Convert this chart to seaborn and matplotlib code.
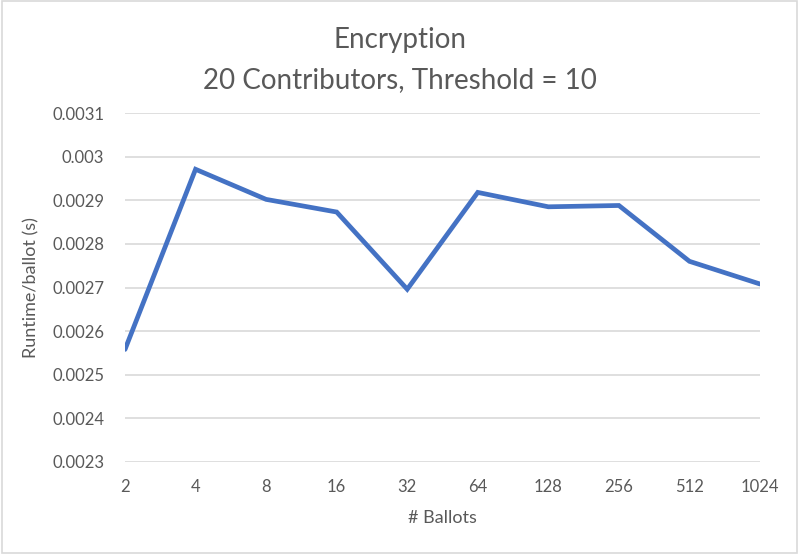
import matplotlib
matplotlib.use("Agg")
import matplotlib.pyplot as plt
import seaborn as sns
import pandas as pd
from matplotlib.patches import Rectangle

# data
ballots = ["2", "4", "8", "16", "32", "64", "128", "256", "512", "1024"]
runtime = [0.002558, 0.002971, 0.002902, 0.002873, 0.002696,
           0.002918, 0.002885, 0.002888, 0.002760, 0.002708]
y_ticks = [0.0023, 0.0024, 0.0025, 0.0026, 0.0027, 0.0028, 0.0029, 0.003, 0.0031]
y_labels = ["0.0023", "0.0024", "0.0025", "0.0026", "0.0027", "0.0028", "0.0029", "0.003", "0.0031"]

df = pd.DataFrame({"ballots": ballots, "runtime": runtime})

sns.set_style("white")
plt.rcParams["font.family"] = ["Lato", "DejaVu Sans"]

fig = plt.figure(figsize=(7.99, 5.54), dpi=100)
ax = fig.add_axes([125 / 799, 1 - 462 / 554, 635 / 799, 349 / 554])

sns.lineplot(data=df, x="ballots", y="runtime", sort=False, ax=ax,
             color="#4472C4", linewidth=3.4, solid_joinstyle="miter")

ax.set_xlim(0, len(ballots) - 1)
ax.set_ylim(0.0023, 0.0031)
ax.set_yticks(y_ticks)
ax.set_yticklabels(y_labels)
ax.grid(axis="y", color="#d9d9d9", linewidth=1.2)
ax.grid(axis="x", visible=False)
for s in ax.spines.values():
    s.set_visible(False)
ax.tick_params(axis="both", length=0, labelsize=12, colors="#595959")
ax.tick_params(axis="y", pad=15)
ax.tick_params(axis="x", pad=12)

ax.set_xlabel("# Ballots", fontsize=13, color="#595959", labelpad=11)
ax.set_ylabel("Runtime/ballot (s)", fontsize=13, color="#595959", labelpad=9)

fig.text(0.5, 1 - 40 / 554, "Encryption", ha="center", va="center",
         fontsize=20, color="#595959")
fig.text(0.5, 1 - 80 / 554, "20 Contributors, Threshold = 10", ha="center", va="center",
         fontsize=20, color="#595959")

fig.patches.append(Rectangle((0.002, 0.002), 0.996, 0.996, transform=fig.transFigure,
                             fill=False, edgecolor="#d9d9d9", linewidth=1.2))

fig.savefig("out.png", dpi=100)
